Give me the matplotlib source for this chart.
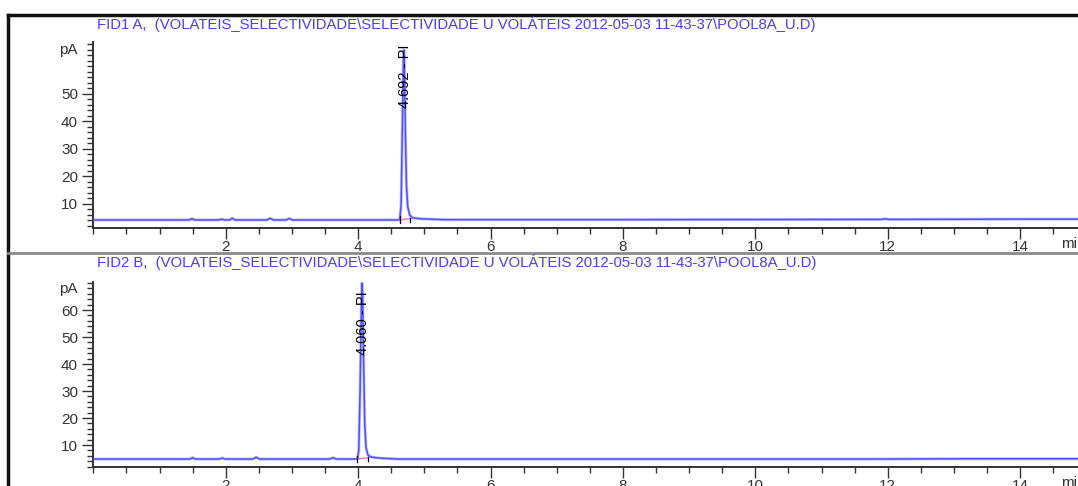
import matplotlib
matplotlib.use("Agg")
import matplotlib.pyplot as plt
from matplotlib.lines import Line2D
from matplotlib.ticker import MultipleLocator

plt.rcParams['font.family'] = ['Liberation Sans', 'DejaVu Sans']

# signal (time in min, signal in pA)
t1 = [0, 1.45, 1.49, 1.53, 1.90, 1.94, 1.98, 2.06, 2.10, 2.14, 2.62, 2.67, 2.72,
      2.91, 2.96, 3.01, 4.63, 4.65, 4.67, 4.685, 4.692, 4.70, 4.715, 4.73, 4.75,
      4.78, 4.82, 4.95, 5.3, 8.0, 11.9, 11.96, 12.02, 14.0, 15.0]
s1 = [4.2, 4.2, 4.7, 4.2, 4.2, 4.5, 4.2, 4.2, 4.8, 4.2, 4.2, 4.8, 4.2,
      4.2, 4.7, 4.2, 4.2, 10, 40, 62, 66, 60, 35, 17, 9,
      6.0, 5.0, 4.6, 4.3, 4.3, 4.4, 4.6, 4.4, 4.5, 4.5]

t2 = [0, 1.46, 1.50, 1.54, 1.91, 1.95, 1.99, 2.41, 2.46, 2.51, 3.57, 3.62, 3.67,
      3.99, 4.01, 4.03, 4.05, 4.06, 4.07, 4.085, 4.10, 4.12, 4.15, 4.20, 4.35,
      4.6, 8.8, 11.8, 13.1, 15.0]
s2 = [4.8, 4.8, 5.3, 4.8, 4.8, 5.2, 4.8, 4.8, 5.5, 4.8, 4.8, 5.3, 4.8,
      4.8, 8, 30, 62, 70, 64, 38, 18, 9, 6.2, 5.5, 5.1,
      4.8, 4.8, 4.8, 4.9, 4.9]

peaks = [("4.692 - PI", 4.692, 4.633, 4.784, 4.2, 56.5),
         ("4.060 - PI", 4.060, 3.990, 4.155, 4.8, 55.0)]
titles = [r"FID1 A,  (VOLATEIS_SELECTIVIDADE\SELECTIVIDADE U VOLÁTEIS 2012-05-03 11-43-37\POOL8A_U.D)",
          r"FID2 B,  (VOLATEIS_SELECTIVIDADE\SELECTIVIDADE U VOLÁTEIS 2012-05-03 11-43-37\POOL8A_U.D)"]
ylims = [(1.27, 68.9), (1.85, 70.4)]
yticks = [[10, 20, 30, 40, 50], [10, 20, 30, 40, 50, 60]]
pa_pos = [66.0, 67.8]

W, H = 1078, 486
fig = plt.figure(figsize=(W / 100, H / 100), dpi=100)

# panel rectangles in pixels: left, top, bottom
boxes = [(93.3, 42, 228), (93.3, 282, 467)]
xmax = (W - 93.3) / 66.2

blue = '#4a4aff'
tcol = '#4b3cf5'
gray = '#333333'

for i, (ts, ss) in enumerate([(t1, s1), (t2, s2)]):
    l, top, bot = boxes[i]
    ax = fig.add_axes([l / W, 1 - bot / H, 1 - l / W, (bot - top) / H])
    ax.plot(ts, ss, color='#9a9aff', lw=2.2, alpha=0.6, zorder=2)
    ax.plot(ts, ss, color=blue, lw=1.1, alpha=0.95, zorder=3)
    lab, rt, st, en, base, ly = peaks[i]
    ax.plot([st, en], [base, base + 0.5], color='#ff66cc', lw=1, zorder=4)
    ax.plot([st, st], [base - 1.2, base + 1.3], color='black', lw=0.9, zorder=4)
    ax.plot([en, en], [base - 0.8, base + 0.8], color='black', lw=0.9, zorder=4)
    ax.text(rt + 0.01, ly, lab, rotation=90, ha='center', va='center',
            fontsize=10.5, color='black', zorder=5)
    ax.set_xlim(0, xmax)
    ax.set_ylim(*ylims[i])
    ax.set_xticks([2, 4, 6, 8, 10, 12, 14])
    ax.xaxis.set_minor_locator(MultipleLocator(0.5))
    ax.set_yticks(yticks[i])
    ax.yaxis.set_minor_locator(MultipleLocator(2))
    ax.tick_params(which='major', length=8, width=1, color=gray, labelcolor=gray,
                   labelsize=11, pad=3)
    ax.tick_params(which='minor', length=4.5, width=1, color=gray)
    ax.tick_params(axis='x', which='major', pad=0.3)
    for sp in ['top', 'right']:
        ax.spines[sp].set_visible(False)
    for sp in ['left', 'bottom']:
        ax.spines[sp].set_color(gray)
        ax.spines[sp].set_linewidth(1.4)
    ax.annotate('pA', xy=(0, pa_pos[i]), xycoords=('axes fraction', 'data'),
                xytext=(-11, 0), textcoords='offset points', ha='right',
                va='center', fontsize=11, color=gray)
    ax.annotate('min', xy=(14.62, 0), xycoords=('data', 'axes fraction'),
                xytext=(0, -6.3), textcoords='offset points', ha='left',
                va='top', fontsize=11, color=gray, annotation_clip=False)
    ty = [24, 262.5][i]
    fig.text(97 / W, 1 - ty / H, titles[i], color=tcol, fontsize=10.75,
             ha='left', va='center')

# frame lines
fig.add_artist(Line2D([8 / W, 1], [1 - 15 / H, 1 - 15 / H], color='#111111', lw=2.5))
fig.add_artist(Line2D([8 / W, 8 / W], [0, 1 - 15 / H], color='#111111', lw=2.5))
fig.add_artist(Line2D([8 / W, 1], [1 - 253 / H, 1 - 253 / H], color='#8a8a8a', lw=2))

fig.savefig('out.png', dpi=100)
